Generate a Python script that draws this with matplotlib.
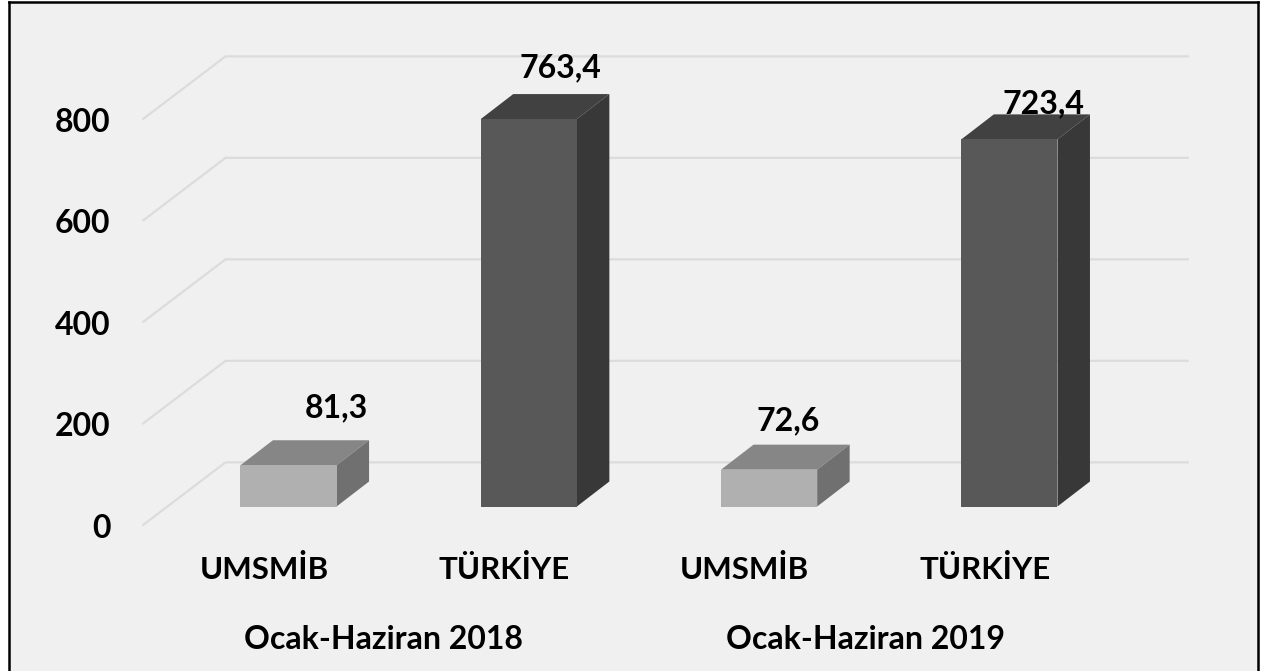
import matplotlib
matplotlib.use("Agg")
import matplotlib.pyplot as plt
from matplotlib.patches import Polygon, Rectangle

plt.rcParams['font.family'] = ['Lato', 'DejaVu Sans']
plt.rcParams['font.weight'] = 'bold'

# data
categories = ["UMSMİB", "TÜRKİYE", "UMSMİB", "TÜRKİYE"]
values = [81.3, 763.4, 72.6, 723.4]
value_labels = ["81,3", "763,4", "72,6", "723,4"]
periods = ["Ocak-Haziran 2018", "Ocak-Haziran 2019"]
period_pos = [0.395, 2.4]
y_ticks = [0, 200, 400, 600, 800]

W, H = 1264, 671
X0, X_SCALE = 288.5, 240.3   # pixel of category 0, pixels per category
Y0, Y_SCALE = 506.5, 0.5075  # pixel of value 0, pixels per unit

# fake 3d sizes, in axis units
bar_w = 0.40
bar_dx = 32.5 / X_SCALE
bar_dy = 25 / Y_SCALE
wall_left = -0.604
wall_back = -0.262
wall_right = 3.742
floor_front = -36
floor_back = 87

fig = plt.figure(figsize=(W / 100, H / 100), dpi=100, facecolor="white")
ax = fig.add_axes([0, 0, 1, 1])
ax.set_xlim((0 - X0) / X_SCALE, (W - X0) / X_SCALE)
ax.set_ylim((Y0 - H) / Y_SCALE, Y0 / Y_SCALE)
ax.axis("off")


def px(x, y):
    # pixel position -> figure fraction
    return x / W, 1 - y / H


# background + frame (open at the bottom)
fig.patches.append(Rectangle((9 / W, 0), 1249 / W, 1 - 3 / H, transform=fig.transFigure,
                             facecolor="#f0f0f0", edgecolor="none", zorder=-2))
for a, b in [((9, H), (9, 2)), ((9, 2), (1258, 2)), ((1258, 2), (1258, H))]:
    fig.add_artist(plt.Line2D([px(*a)[0], px(*b)[0]], [px(*a)[1], px(*b)[1]],
                              color="black", lw=1.8, solid_capstyle="projecting"))

# walls
for t in y_ticks:
    ax.plot([wall_left, wall_back, wall_right], [t + floor_front, t + floor_back, t + floor_back],
            color="#dcdcdc", lw=1.6, zorder=1)
    ax.text(wall_left - 0.137, t + floor_front - 7, str(t), ha="right", va="center",
            fontsize=23, fontweight="bold", color="black")

# bars
for i, v in enumerate(values):
    if i % 2 == 0:
        front, top, side = "#b0b0b0", "#868686", "#707070"
    else:
        front, top, side = "#585858", "#414141", "#383838"
    l, r = i - bar_w / 2, i + bar_w / 2
    ax.add_patch(Polygon([(l, v), (l + bar_dx, v + bar_dy), (r + bar_dx, v + bar_dy), (r, v)],
                         facecolor=top, edgecolor="none", zorder=3))
    ax.add_patch(Polygon([(r, 0), (r + bar_dx, bar_dy), (r + bar_dx, v + bar_dy), (r, v)],
                         facecolor=side, edgecolor="none", zorder=3))
    ax.bar(i, v, width=bar_w, color=front, zorder=4)

# labels
label_off_x = [0.198, 0.13, 0.08, 0.14]
label_off_y = [113, 101, 97, 71]
for i, v in enumerate(values):
    ax.text(i + label_off_x[i], v + label_off_y[i], value_labels[i], ha="center", va="center",
            fontsize=23, fontweight="bold", color="black", zorder=6)
for i, c in enumerate(categories):
    ax.text(i - 0.102, -125, c, ha="center", va="center", fontsize=22.5, fontweight="bold", color="black")
for p, name in zip(period_pos, periods):
    ax.text(p, -263, name, ha="center", va="center", fontsize=23, fontweight="bold", color="black")

fig.savefig("out.png", dpi=100)
